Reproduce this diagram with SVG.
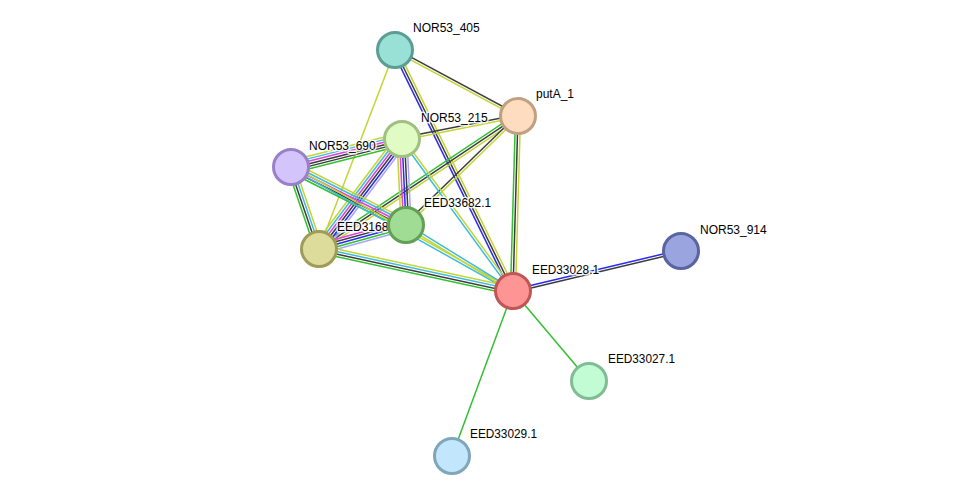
<svg xmlns="http://www.w3.org/2000/svg" width="976" height="501" viewBox="0 0 976 501">
<style>
line{stroke-width:1.5;fill:none;vector-effect:non-scaling-stroke}
.k{stroke:#3c3c3c}.y{stroke:#c2d534}.c{stroke:#3cbcdc}.m{stroke:#e040dc}.g{stroke:#30c030}.b{stroke:#2a2af0}.l{stroke:#a8a4fc}
circle{stroke-width:3}
text{font-family:"Liberation Sans",Arial,sans-serif;font-size:12px;fill:#000;stroke:#fff;stroke-width:3;stroke-linejoin:round;paint-order:stroke;stroke-opacity:0.85}
</style>
<rect width="976" height="501" fill="#fff"/>
<g id="edges">
<g transform="translate(395 50) rotate(28.22) scale(1 1.25)"><line x2="139.6" y1="-1" y2="-1" class="k"/><line x2="139.6" y1="1" y2="1" class="y"/></g>
<g transform="translate(395 50) rotate(63.91) scale(1 1.25)"><line x2="268.3" y1="2" y2="2" class="b"/><line x2="268.3" class="k"/><line x2="268.3" y1="-2" y2="-2" class="y"/></g>
<g transform="translate(395 50) rotate(110.9)"><line x2="213" class="y"/></g>
<g transform="translate(518 116) rotate(168.8) scale(1 1.25)"><line x2="118.3" y1="1" y2="1" class="k"/><line x2="118.3" y1="-1" y2="-1" class="y"/></g>
<g transform="translate(518 116) rotate(146.25) scale(1 1.25)"><line x2="239.4" y1="2" y2="2" class="g"/><line x2="239.4" class="k"/><line x2="239.4" y1="-2" y2="-2" class="y"/></g>
<g transform="translate(518 116) rotate(135.8) scale(1 1.25)"><line x2="156.3" y1="1" y2="1" class="k"/><line x2="156.3" y1="-1" y2="-1" class="y"/></g>
<g transform="translate(518 116) rotate(91.64) scale(1 1.25)"><line x2="175.1" y1="2" y2="2" class="g"/><line x2="175.1" class="k"/><line x2="175.1" y1="-2" y2="-2" class="y"/></g>
<g transform="translate(402 139) rotate(165.84) scale(1 1.25)"><line x2="114.5" y1="5" y2="5" class="y"/><line x2="114.5" y1="3" y2="3" class="c"/><line x2="114.5" y1="1" y2="1" class="m"/><line x2="114.5" y1="-1" y2="-1" class="k"/><line x2="114.5" y1="-3" y2="-3" class="k"/><line x2="114.5" y1="-5" y2="-5" class="g"/></g>
<g transform="translate(402 139) rotate(127.04) scale(1 1.25)"><line x2="137.8" y1="5" y2="5" class="y"/><line x2="137.8" y1="3" y2="3" class="c"/><line x2="137.8" y1="1" y2="1" class="m"/><line x2="137.8" y1="-1" y2="-1" class="k"/><line x2="137.8" y1="-3" y2="-3" class="b"/><line x2="137.8" y1="-5" y2="-5" class="l"/></g>
<g transform="translate(402 139) rotate(87.3) scale(1 1.25)"><line x2="86.1" y1="4" y2="4" class="y"/><line x2="86.1" y1="2" y2="2" class="m"/><line x2="86.1" class="b"/><line x2="86.1" y1="-2" y2="-2" class="k"/><line x2="86.1" y1="-4" y2="-4" class="l"/></g>
<g transform="translate(402 139) rotate(53.86) scale(1 1.25)"><line x2="188.2" y1="1" y2="1" class="c"/><line x2="188.2" y1="-1" y2="-1" class="y"/></g>
<g transform="translate(291 167) rotate(71.15) scale(1 1.25)"><line x2="86.6" y1="3" y2="3" class="g"/><line x2="86.6" y1="1" y2="1" class="k"/><line x2="86.6" y1="-1" y2="-1" class="c"/><line x2="86.6" y1="-3" y2="-3" class="y"/></g>
<g transform="translate(291 167) rotate(26.77) scale(1 1.25)"><line x2="128.8" y1="-4" y2="-4" class="y"/><line x2="128.8" y1="-2" y2="-2" class="c"/><line x2="128.8" class="m"/><line x2="128.8" y1="2" y2="2" class="k"/><line x2="128.8" y1="4" y2="4" class="g"/></g>
<g transform="translate(291 167) rotate(29.19) scale(1 1.25)"><line x2="254.3" y1="-1" y2="-1" class="y"/><line x2="254.3" y1="1" y2="1" class="c"/></g>
<g transform="translate(319 249) rotate(-15.42) scale(1 1.25)"><line x2="90.2" y1="-4" y2="-4" class="m"/><line x2="90.2" y1="-2" y2="-2" class="k"/><line x2="90.2" class="b"/><line x2="90.2" y1="2" y2="2" class="g"/><line x2="90.2" y1="4" y2="4" class="l"/></g>
<g transform="translate(319 249) rotate(12.22) scale(1 1.25)"><line x2="198.5" y1="-3" y2="-3" class="y"/><line x2="198.5" y1="-1" y2="-1" class="c"/><line x2="198.5" y1="1" y2="1" class="k"/><line x2="198.5" y1="3" y2="3" class="g"/></g>
<g transform="translate(406 225) rotate(31.67) scale(1 1.25)"><line x2="125.7" y1="-1" y2="-1" class="c"/><line x2="125.7" y1="1" y2="1" class="y"/></g>
<g transform="translate(513 291) rotate(-13.39) scale(1 1.25)"><line x2="172.7" y1="-1" y2="-1" class="b"/><line x2="172.7" y1="1" y2="1" class="k"/></g>
<g transform="translate(513 291) rotate(49.82)"><line x2="117.8" class="g"/></g>
<g transform="translate(513 291) rotate(110.29)"><line x2="175.9" class="g"/></g>
</g>
<g id="NOR53_405"><circle cx="395" cy="50" r="17.5" fill="#99e0d6" stroke="#5a9e94"/><text x="413" y="32">NOR53_405</text></g>
<g id="putA_1"><circle cx="518" cy="116" r="17.5" fill="#fddcbf" stroke="#c0a080"/><text x="536" y="98">putA_1</text></g>
<g id="NOR53_215"><circle cx="402" cy="139" r="17.5" fill="#e0fcc4" stroke="#a0c080"/><text x="421" y="122">NOR53_215</text></g>
<g id="NOR53_690"><circle cx="291" cy="167" r="17.5" fill="#d4c4fc" stroke="#9a80c8"/><text x="309" y="150">NOR53_690</text></g>
<g id="EED3168"><circle cx="319" cy="249" r="17.5" fill="#dedc9a" stroke="#9e9c58"/><text x="337" y="231">EED3168</text></g>
<g id="EED33682.1"><circle cx="406" cy="225" r="17.5" fill="#a0dc94" stroke="#62a055"/><text x="424" y="207" textLength="67" lengthAdjust="spacingAndGlyphs">EED33682.1</text></g>
<g id="EED33028.1"><circle cx="513" cy="291" r="17.5" fill="#fd9595" stroke="#c05656"/><text x="532" y="274" textLength="67" lengthAdjust="spacingAndGlyphs">EED33028.1</text></g>
<g id="NOR53_914"><circle cx="681" cy="251" r="17.5" fill="#9aa4de" stroke="#5a64a0"/><text x="700" y="234">NOR53_914</text></g>
<g id="EED33027.1"><circle cx="589" cy="381" r="17.5" fill="#c2fcd4" stroke="#82bc94"/><text x="608" y="363" textLength="67" lengthAdjust="spacingAndGlyphs">EED33027.1</text></g>
<g id="EED33029.1"><circle cx="452" cy="456" r="17.5" fill="#c2e6fc" stroke="#80a6bc"/><text x="470" y="438" textLength="67" lengthAdjust="spacingAndGlyphs">EED33029.1</text></g>
</svg>
